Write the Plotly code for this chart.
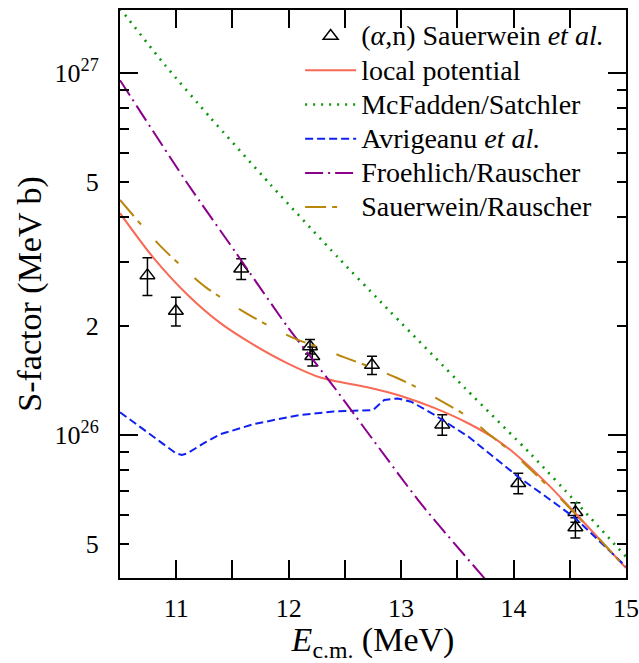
import plotly.graph_objects as go

# ---------------- data ----------------
# experimental (alpha,n) Sauerwein et al.
exp_E = [10.744, 10.997, 11.578, 12.19, 12.21, 12.741, 13.366, 14.042, 14.55, 14.55]
exp_S = [2.76e26, 2.20e26, 2.88e26, 1.755e26, 1.65e26, 1.56e26, 1.068e26, 7.36e25, 6.12e25, 5.55e25]
exp_err = [0.33e26, 0.20e26, 0.19e26, 0.08e26, 0.10e26, 0.09e26, 0.07e26, 0.48e25, 0.38e25, 0.36e25]

local_E = [10.5, 10.8, 11.1, 11.39, 11.69, 11.99, 12.29, 12.7, 13.0, 13.3, 13.6, 13.83, 14.01,
           14.31, 14.55, 15.0]
local_S = [4.10e26, 3.08e26, 2.44e26, 2.04e26, 1.774e26, 1.578e26, 1.439e26, 1.355e26, 1.282e26,
           1.186e26, 1.076e26, 9.79e25, 8.89e25, 7.28e25, 6.08e25, 4.29e25]

mcf_E = [10.5, 10.9, 11.3, 11.84, 12.44, 12.82, 13.57, 14.16, 14.56, 15.0]
mcf_S = [1.507e27, 1.052e27, 7.55e26, 4.91e26, 3.09e26, 2.33e26, 1.346e26, 8.81e25, 6.50e25, 4.61e25]

avr_E = [10.5, 11.0, 11.05, 11.1, 11.25, 11.39, 11.5, 11.69, 11.99, 12.1, 12.4, 12.75, 12.85,
         12.97, 13.09, 13.3, 13.6, 14.04, 14.31, 14.55, 15.0]
avr_S = [1.156e26, 8.89e25, 8.81e25, 8.90e25, 9.51e25, 1.005e26, 1.028e26, 1.072e26, 1.119e26,
         1.135e26, 1.161e26, 1.172e26, 1.250e26, 1.262e26, 1.236e26, 1.135e26, 9.89e25, 7.67e25,
         6.68e25, 5.89e25, 4.33e25]

fro_E = [10.5, 11.1, 11.53, 11.99, 12.39, 13.18, 13.8]
fro_S = [9.55e26, 4.95e26, 3.19e26, 1.99e26, 1.374e26, 6.44e25, 3.83e25]

sr_E = [10.5, 10.83, 11.04, 11.27, 11.69, 12.05, 12.29, 12.49, 12.76, 12.96, 13.13, 13.39, 13.57,
        13.8, 14.01, 14.37, 14.7, 15.0]
sr_S = [4.46e26, 3.40e26, 2.94e26, 2.55e26, 2.11e26, 1.849e26, 1.738e26, 1.641e26, 1.528e26,
        1.439e26, 1.358e26, 1.225e26, 1.135e26, 9.95e25, 8.81e25, 6.90e25, 5.41e25, 4.29e25]

names = ["(<i>α</i>,n) Sauerwein <i>et al.</i>", "local potential", "McFadden/Satchler",
         "Avrigeanu <i>et al.</i>", "Froehlich/Rauscher", "Sauerwein/Rauscher"]

y_tickvals = [5e25, 1e26, 2e26, 5e26, 1e27]
y_ticktext = ["5", "10<sup>26</sup>", "2", "5", "10<sup>27</sup>"]
y_minor = [6e25, 7e25, 8e25, 9e25, 3e26, 4e26, 6e26, 7e26, 8e26, 9e26]
y_decades = [1e26, 1e27]
x_tickvals = [11, 12, 13, 14, 15]

FONT = "Liberation Serif"


def lg(s):
    return '<span style="font-size:28px">' + s + '</span>'


fig = go.Figure()

fig.add_trace(go.Scatter(
    x=exp_E, y=exp_S, mode="markers", name=lg(names[0]),
    marker=dict(symbol="triangle-up-open", size=13, color="black", line=dict(width=1.5, color="black")),
    error_y=dict(type="data", array=exp_err, visible=True, color="black", thickness=1.5, width=5),
))
fig.add_trace(go.Scatter(x=local_E, y=local_S, mode="lines", name=lg(names[1]),
                         line=dict(color="#F86A55", width=2, shape="spline", smoothing=0.8)))
fig.add_trace(go.Scatter(x=mcf_E, y=mcf_S, mode="lines", name=lg(names[2]),
                         line=dict(color="#0A960A", width=2.6, dash="2px,6px", shape="spline", smoothing=0.6)))
fig.add_trace(go.Scatter(x=avr_E, y=avr_S, mode="lines", name=lg(names[3]),
                         line=dict(color="#1020F0", width=2, dash="8px,4px")))
fig.add_trace(go.Scatter(x=fro_E, y=fro_S, mode="lines", name=lg(names[4]),
                         line=dict(color="#8B008B", width=2, dash="18px,5px,2px,5px", shape="spline", smoothing=0.6)))
fig.add_trace(go.Scatter(x=sr_E, y=sr_S, mode="lines", name=lg(names[5]),
                         line=dict(color="#B8860B", width=2, dash="21px,6px,5px,22px", shape="spline", smoothing=0.8)))
# overlay axis carrying the long decade ticks
fig.add_trace(go.Scatter(x=[], y=[], yaxis="y2", showlegend=False, hoverinfo="skip"))

ylog_range = [25.605, 27.174]

fig.update_layout(
    width=639, height=663,
    margin=dict(l=120, r=13, t=10, b=85, autoexpand=False),
    paper_bgcolor="white", plot_bgcolor="white",
    font=dict(family=FONT, size=26, color="black"),
    showlegend=True,
    legend=dict(x=0.356, y=0.993, xanchor="left", yanchor="top",
                bgcolor="rgba(0,0,0,0)", font=dict(family=FONT, size=24, color="black"),
                itemwidth=51, tracegroupgap=0),
    xaxis=dict(range=[10.5, 15], tickvals=x_tickvals, ticks="inside", ticklen=18, tickwidth=1.5,
               tickcolor="black", showline=True, linecolor="black", linewidth=2, mirror="allticks",
               showgrid=False, zeroline=False,
               minor=dict(dtick=0.5, tick0=10.5, ticks="inside", ticklen=9, tickwidth=1.5,
                          tickcolor="black", showgrid=False),
               tickfont=dict(family=FONT, size=26), ticklabelstandoff=6,
               title=dict(text="<i>E</i><sub>c.m.</sub> (MeV)", font=dict(family=FONT, size=34), standoff=25)),
    yaxis=dict(type="log", range=ylog_range, tickvals=y_tickvals, ticktext=y_ticktext,
               ticks="inside", ticklen=9, tickwidth=1.5, tickcolor="black",
               showline=True, linecolor="black", linewidth=2, mirror="allticks",
               showgrid=False, zeroline=False,
               minor=dict(tickvals=y_minor, ticks="inside", ticklen=9, tickwidth=1.5,
                          tickcolor="black", showgrid=False),
               tickfont=dict(family=FONT, size=26), ticklabelstandoff=14,
               title=dict(text="S-factor (MeV b)", font=dict(family=FONT, size=34), standoff=3)),
    yaxis2=dict(type="log", range=ylog_range, overlaying="y", side="left", tickvals=y_decades,
                ticks="inside", ticklen=18, tickwidth=1.5, tickcolor="black", showticklabels=False,
                showline=False, mirror="ticks", showgrid=False, zeroline=False),
)

fig.write_html("out.html", config={"displayModeBar": False},
               post_script="document.body.style.margin='0px';")
